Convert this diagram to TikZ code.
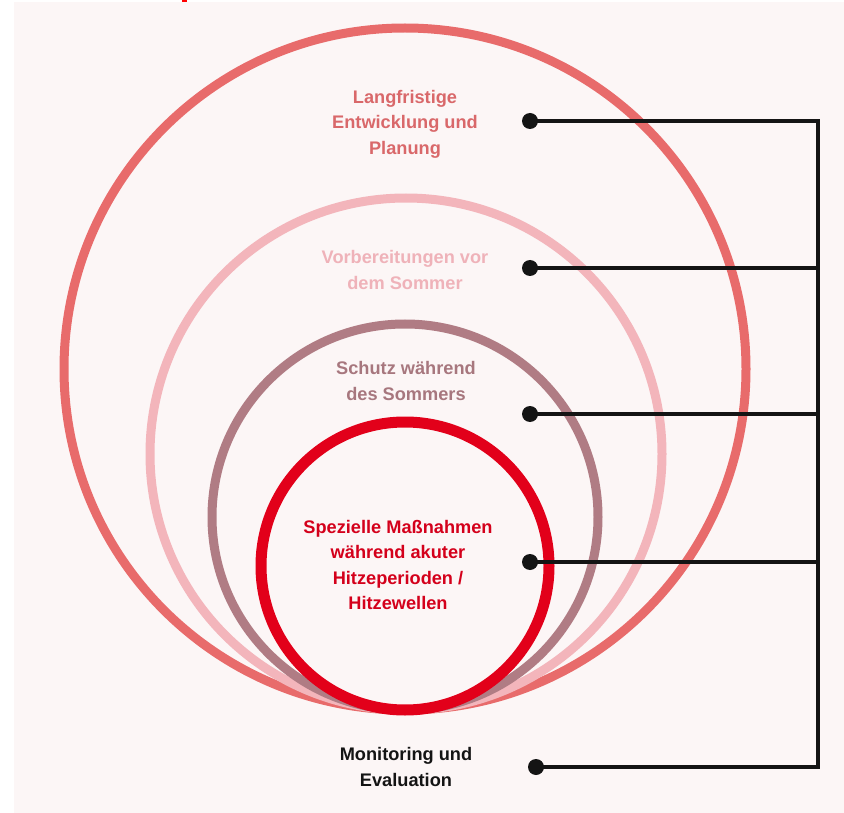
\documentclass[tikz,border=0pt]{standalone}
\usepackage{fontspec}
\setmainfont{Liberation Sans}
\usetikzlibrary{positioning,calc}
\definecolor{bgpink}{HTML}{FCF6F6}
\definecolor{ringouter}{HTML}{E86B6B}
\definecolor{ringpink}{HTML}{F3B5BB}
\definecolor{ringmauve}{HTML}{B07C84}
\definecolor{ringred}{HTML}{E2001A}
\definecolor{txtouter}{HTML}{D9686A}
\definecolor{txtpink}{HTML}{EFB2B9}
\definecolor{txtmauve}{HTML}{A7777E}
\definecolor{txtred}{HTML}{D4001B}
\tikzset{lbl/.style={align=center, inner sep=0, font=\bfseries\fontsize{18.2}{25.5}\selectfont}}
\tikzset{ring/.style={line width=#1}}
\tikzset{dot/.style={circle, fill=black!92, inner sep=0, minimum size=16pt}}
\tikzset{conn/.style={draw=black!92, line width=3.6pt}}

\begin{document}
\begin{tikzpicture}[x=1pt, y=-1pt]
		\useasboundingbox (0,0) rectangle (844,813);
		\fill[white] (0,0) rectangle (844,813);
		\fill[bgpink] (14,2) rectangle (844,813);
		\fill[red] (182,0) rectangle (187,2.5);
		% rings, all touching at the bottom
		\draw[ringouter, ring=9pt] (405,369) circle (341);
		\draw[ringpink, ring=9pt] (406,454) circle (256);
		\draw[ringmauve, ring=9pt] (405,517) circle (193);
		\draw[ringred, ring=11pt] (405,566) circle (144);
		% labels
		\node[lbl, text=txtouter] (plan) at (405,124)
			{Langfristige\\Entwicklung und\\Planung};
		\node[lbl, text=txtpink] (prep) at (405,270)
			{Vorbereitungen vor\\dem Sommer};
		\node[lbl, text=txtmauve] (prot) at (406,381)
			{Schutz während\\des Sommers};
		\node[lbl, text=txtred] (heat) at (398,565)
			{Spezielle Maßnahmen\\während akuter\\Hitzeperioden /\\Hitzewellen};
		\node[lbl, text=black!92] (moni) at (406,767)
			{Monitoring und\\Evaluation};
		% dots and bracket
		\node[dot] (d1) at (530,121) {};
		\node[dot] (d2) at (530,268) {};
		\node[dot] (d3) at (530,414) {};
		\node[dot] (d4) at (530,562) {};
		\node[dot] (d5) at (536,767) {};
		\coordinate (top) at (818,121);
		\coordinate (bot) at (818,767);
		\draw[conn] (d1.center) -- (top) -- (bot) -- (d5.center);
		\draw[conn] (d2.center) -- (d2 -| top);
		\draw[conn] (d3.center) -- (d3 -| top);
		\draw[conn] (d4.center) -- (d4 -| top);
	\end{tikzpicture}
\end{document}
